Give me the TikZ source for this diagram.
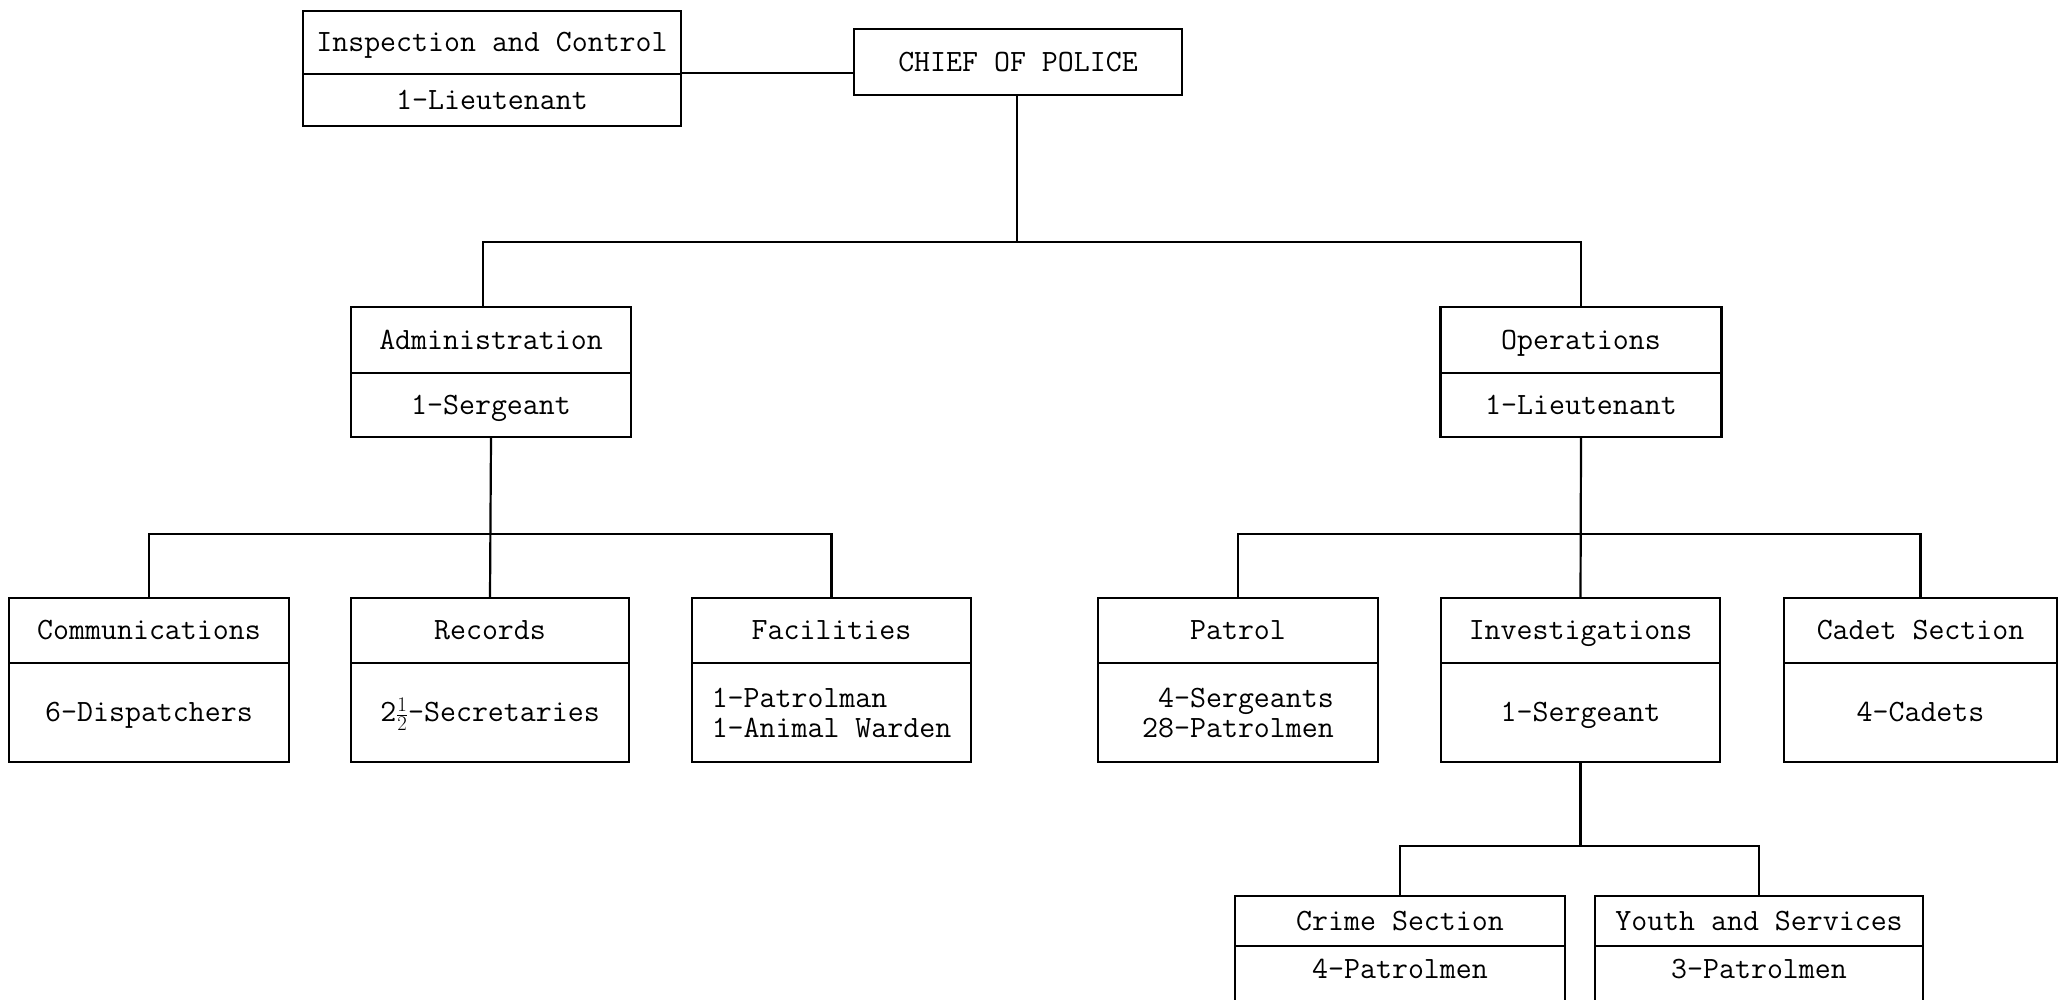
\documentclass[tikz,border=0pt]{standalone}
\newcommand\tabfont{\fontsize{31}{30}\selectfont\ttfamily}
\tikzset{
  cell/.style={draw, line width=2.2pt, inner sep=0pt, font=\tabfont, align=center},
  one/.style={text height=23pt, text depth=5pt},
  wire/.style={line width=2.2pt},
  lbl/.style={font=\tabfont, inner sep=0pt, align=center, text height=23pt, text depth=5pt}
}
\begin{document}
\begin{tikzpicture}[x=1pt,y=-1pt]
\clip (0,0) rectangle (2060,999);
\fill[white] (0,0) rectangle (2060,999);
% top
\node[cell, one, minimum width=378pt, minimum height=63pt] (inspT) at (492,42.5) {Inspection and Control};
\node[cell, one, minimum width=378pt, minimum height=52pt] (inspB) at (492,100) {1-Lieutenant};
\node[cell, one, minimum width=328pt, minimum height=66pt] (chief) at (1018,62) {CHIEF OF POLICE};
% second level
\node[cell, one, minimum width=280pt, minimum height=66pt] (adminT) at (491,340) {Administration};
\node[cell, one, minimum width=280pt, minimum height=64pt] (adminB) at (491,405) {1-Sergeant};
\node[cell, one, minimum width=281pt, minimum height=66pt] (opsT) at (1581,340) {Operations};
\node[cell, one, minimum width=281pt, minimum height=64pt] (opsB) at (1581,405) {1-Lieutenant};
% third level
\node[cell, one, minimum width=280pt, minimum height=65pt] (commT) at (149,630.5) {Communications};
\node[cell, one, minimum width=280pt, minimum height=99pt] (commB) at (149,712.5) {6-Dispatchers};
\node[cell, one, minimum width=278pt, minimum height=65pt] (recT) at (490,630.5) {Records};
\node[cell, one, minimum width=278pt, minimum height=99pt] (recB) at (490,712.5) {2$\frac{1}{2}$-Secretaries};
\node[cell, one, minimum width=279pt, minimum height=65pt] (facT) at (831.5,630.5) {Facilities};
\node[cell, minimum width=279pt, minimum height=99pt, align=left] (facB) at (831.5,712.5) {1-Patrolman\\1-Animal Warden};
\node[cell, one, minimum width=280pt, minimum height=65pt] (patrolT) at (1238,630.5) {Patrol};
\node[cell, minimum width=280pt, minimum height=99pt, align=right] (patrolB) at (1238,712.5) {4-Sergeants\\28-Patrolmen};
\node[cell, one, minimum width=279pt, minimum height=65pt] (invT) at (1580.5,630.5) {Investigations};
\node[cell, one, minimum width=279pt, minimum height=99pt] (invB) at (1580.5,712.5) {1-Sergeant};
\node[cell, one, minimum width=273pt, minimum height=65pt] (cadetT) at (1920.5,630.5) {Cadet Section};
\node[cell, one, minimum width=273pt, minimum height=99pt] (cadetB) at (1920.5,712.5) {4-Cadets};
% fourth level
\node[cell, one, minimum width=330pt, minimum height=50pt] (crimeT) at (1400,921) {Crime Section};
\node[cell, minimum width=330pt, minimum height=124pt] (crimeB) at (1400,1008) {};
\node[lbl] (crimeL) at (1400,969) {4-Patrolmen};
\node[cell, one, minimum width=328pt, minimum height=50pt] (youthT) at (1759,921) {Youth and Services};
\node[cell, minimum width=328pt, minimum height=124pt] (youthB) at (1759,1008) {};
\node[lbl] (youthL) at (1759,969) {3-Patrolmen};
% connectors
\coordinate (bus1) at (1017,242);
\coordinate (admdrop) at (483,242);
\coordinate (invbus) at (1580.5,847);
\draw[wire] (inspB.north east) -- (chief.west |- inspB.north east);
\draw[wire] (chief.south -| bus1) -- (bus1);
\draw[wire] (admdrop |- adminT.north) -- (admdrop) -| (opsT.north);
\draw[wire] (adminB.south) -- (recT.north);
\draw[wire] (commT.north) -- ++(0,-63) -| (facT.north);
\draw[wire] (opsB.south) -- (invT.north);
\draw[wire] (patrolT.north) -- ++(0,-63) -| (cadetT.north);
\draw[wire] (invB.south) -- (invbus);
\draw[wire] (crimeT.north) -- ++(0,-49) -| (youthT.north);
\end{tikzpicture}
\end{document}
